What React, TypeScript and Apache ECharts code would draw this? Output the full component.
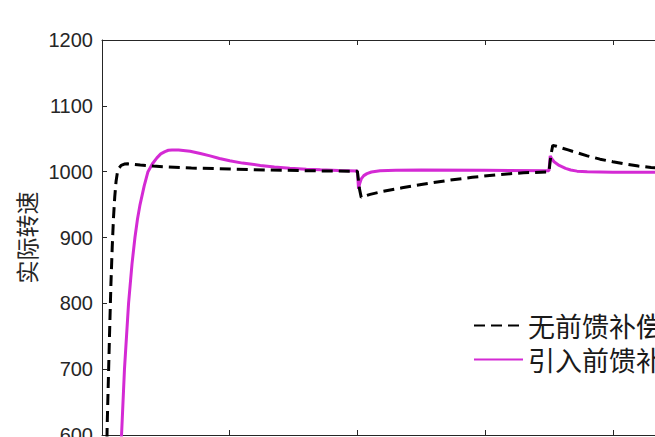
import React, { useEffect, useRef } from "react";
import * as echarts from "echarts";

const seriesNames = ["无前馈补偿", "引入前馈补偿"];
const yAxisName = "实际转速";

// time (s) and speed for the curve without feed-forward
const tNoFF = [0, 0.002, 0.004, 0.006, 0.007, 0.008, 0.009, 0.01, 0.011, 0.012, 0.0135, 0.015, 0.0175, 0.02, 0.025, 0.03, 0.04, 0.05, 0.07, 0.1, 0.13, 0.16, 0.2, 0.2015, 0.203, 0.206, 0.21, 0.22, 0.235, 0.25, 0.27, 0.29, 0.31, 0.33, 0.35, 0.3515, 0.353, 0.356, 0.36, 0.365, 0.37, 0.38, 0.39, 0.4, 0.41, 0.42, 0.43, 0.44, 0.46, 0.48, 0.5];
const vNoFF = [0, 250, 610, 760, 830, 885, 930, 962, 985, 998, 1006, 1009.5, 1011.5, 1012, 1011, 1010, 1008.5, 1007.3, 1005.5, 1004, 1002.5, 1001.5, 1000.5, 975, 961, 963, 965.5, 970, 975.5, 980.5, 986.5, 991.5, 995.5, 998.3, 999.5, 1025, 1040, 1038.5, 1036, 1033, 1030, 1024, 1019, 1015, 1011.5, 1008.5, 1006.3, 1004.8, 1003, 1002, 1001];

// time (s) and speed for the curve with feed-forward
const tFF = [0, 0.0153, 0.0176, 0.0208, 0.0235, 0.0258, 0.0278, 0.0298, 0.033, 0.036, 0.0395, 0.043, 0.046, 0.0493, 0.052, 0.0548, 0.06, 0.069, 0.077, 0.0846, 0.092, 0.1, 0.11, 0.124, 0.135, 0.147, 0.16, 0.171, 0.185, 0.2, 0.2009, 0.2018, 0.203, 0.205, 0.2075, 0.211, 0.2177, 0.23, 0.25, 0.3, 0.35, 0.3505, 0.351, 0.352, 0.354, 0.358, 0.363, 0.367, 0.372, 0.38, 0.4, 0.5];
const vFF = [0, 600, 700, 800, 860, 900, 928, 950, 978, 1000, 1012, 1021, 1027, 1030.5, 1032.5, 1033, 1033, 1031, 1027.5, 1024, 1020, 1016.5, 1013, 1009.5, 1007, 1005.3, 1003.8, 1002.8, 1001.8, 1001, 974, 982, 989, 994, 997, 999.5, 1001.5, 1002.3, 1002.5, 1002, 1001.5, 1012, 1024, 1020, 1015, 1009.5, 1005, 1002.5, 1000.8, 999.7, 999, 999];

const yTicks = { min: 600, max: 1200, interval: 100 };
const xTicks = { min: 0, max: 0.5, interval: 0.1 };

const pairs = (t: number[], v: number[]) => t.map((x, i) => [x, v[i]]);

export default function App() {
  const ref = useRef<HTMLDivElement>(null);
  useEffect(() => {
    if (!ref.current) return;
    const chart = echarts.init(ref.current, undefined, { renderer: "svg" });
    const axisColor = "#262626";
    const magenta = "#D42AD4";
    chart.setOption({
      animation: false,
      backgroundColor: "#ffffff",
      grid: { left: 102, top: 40, width: 638.5, height: 395 },
      legend: {
        orient: "vertical",
        left: 473,
        top: 312,
        padding: 0,
        itemWidth: 49,
        itemHeight: 14,
        itemGap: 7,
        data: seriesNames,
        itemStyle: { color: "transparent", borderWidth: 0, opacity: 0 },
        textStyle: { fontSize: 27, color: "#1a1a1a", fontFamily: "Noto Sans CJK SC" },
      },
      xAxis: [
        {
          type: "value",
          min: xTicks.min,
          max: xTicks.max,
          interval: xTicks.interval,
          axisLine: { show: true, lineStyle: { color: axisColor, width: 1 } },
          axisTick: { show: true, inside: true, length: 5, lineStyle: { color: axisColor } },
          axisLabel: { show: false },
          splitLine: { show: false },
        },
        {
          type: "value",
          position: "top",
          min: xTicks.min,
          max: xTicks.max,
          interval: xTicks.interval,
          axisLine: { show: true, lineStyle: { color: axisColor, width: 1 } },
          axisTick: { show: true, inside: true, length: 5, lineStyle: { color: axisColor } },
          axisLabel: { show: false },
          splitLine: { show: false },
        },
      ],
      yAxis: {
        type: "value",
        min: yTicks.min,
        max: yTicks.max,
        interval: yTicks.interval,
        name: yAxisName,
        nameLocation: "middle",
        nameGap: 60,
        nameTextStyle: { fontSize: 23, color: axisColor, fontFamily: "Noto Sans CJK SC" },
        axisLine: { show: true, lineStyle: { color: axisColor, width: 1 } },
        axisTick: { show: true, inside: true, length: 5, lineStyle: { color: axisColor } },
        axisLabel: {
          fontSize: 20,
          color: axisColor,
          fontFamily: "Liberation Sans",
          margin: 9,
          formatter: (v: number) => String(v),
        },
        splitLine: { show: false },
      },
      series: [
        {
          name: seriesNames[0],
          type: "line",
          data: pairs(tNoFF, vNoFF),
          symbol: "none",
          clip: true,
          z: 3,
          lineStyle: { color: "#000000", width: 3, type: [11, 6] },
          itemStyle: { color: "#000000" },
        },
        {
          name: seriesNames[1],
          type: "line",
          data: pairs(tFF, vFF),
          symbol: "none",
          clip: true,
          z: 2,
          lineStyle: { color: magenta, width: 3 },
          itemStyle: { color: magenta },
        },
      ],
    });
    return () => chart.dispose();
  }, []);
  return (
    <div style={{ position: "fixed", left: 0, top: 0, width: 655, height: 437, overflow: "hidden", background: "#fff" }}>
      <div ref={ref} style={{ width: 800, height: 500 }} />
    </div>
  );
}
